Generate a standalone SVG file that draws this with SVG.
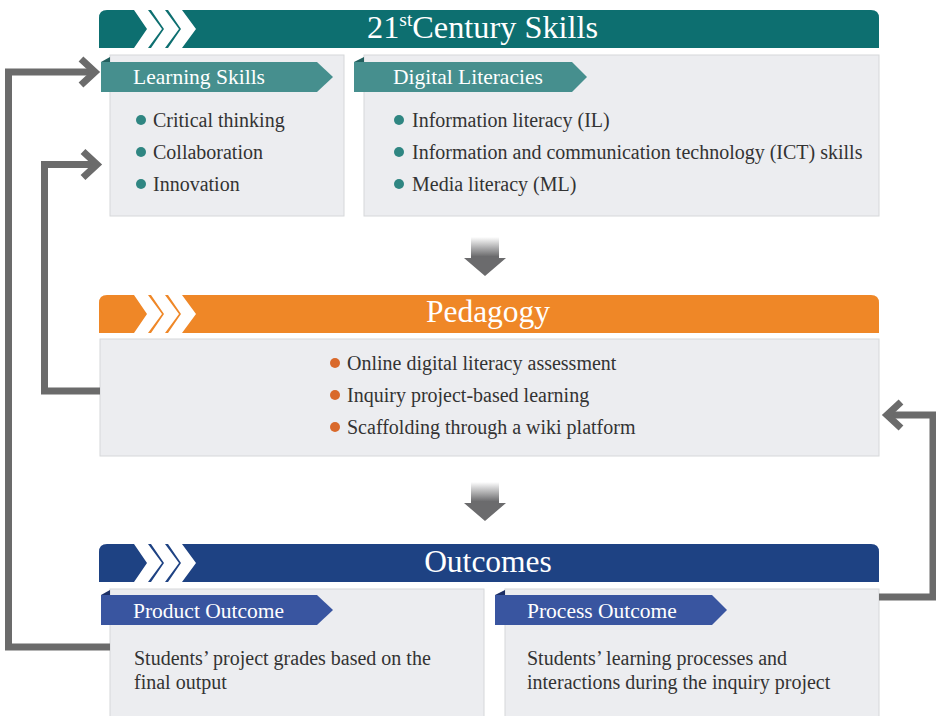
<svg xmlns="http://www.w3.org/2000/svg" width="936" height="716" viewBox="0 0 936 716">
<style>
.hdr-t{font-family:"Liberation Serif","Times New Roman",serif;font-size:31.5px;fill:#fff}
.tab-t{font-family:"Liberation Serif","Times New Roman",serif;font-size:21.5px;fill:#fff}
.body{font-family:"Liberation Serif","Times New Roman",serif;font-size:20px;fill:#333}
.panel{fill:#ecedf0;stroke:#d6d7da;stroke-width:1}
.chev{fill:#fff}
.conn{fill:none;stroke:#6b6b6b;stroke-width:7}
.b-teal{fill:#2f8682}
.b-orange{fill:#d9692b}
</style>
<defs>
<linearGradient id="gArrow" x1="0" y1="0" x2="0" y2="1">
<stop offset="0" stop-color="#6b6b6d" stop-opacity="0"/>
<stop offset="0.5" stop-color="#6b6b6d" stop-opacity="1"/>
<stop offset="1" stop-color="#6b6b6d"/>
</linearGradient>
<marker id="arr" markerUnits="userSpaceOnUse" markerWidth="30" markerHeight="40" viewBox="0 0 30 40" refX="18" refY="20" orient="auto" overflow="visible">
<path d="M4,7 L18,20 L4,33" fill="none" stroke="#6b6b6b" stroke-width="7"/>
</marker>
<g id="chevs">
<polygon class="chev" points="134,10 148,10 162,29 148,48 134,48 147,29"/>
<polygon class="chev" points="151,10 165,10 179,29 165,48 151,48 164,29"/>
<polygon class="chev" points="168,10 182,10 196,29 182,48 168,48 181,29"/>
</g>
</defs>

<!-- 21st Century Skills -->
<g id="skills-header">
<path d="M99,48 V18 Q99,10 107,10 H871 Q879,10 879,18 V48 Z" fill="#0d6f70"/>
<use href="#chevs"/>
<text class="hdr-t" x="367" y="38" style="font-size:32.3px">21<tspan style="font-size:19.5px" dy="-12">st</tspan><tspan dy="12">Century Skills</tspan></text>
</g>

<g id="learning-skills">
<rect class="panel" x="110" y="55" width="234" height="161"/>
<polygon points="101,62 317,62 333,77 317,92 101,92" fill="#468f8e"/>
<polygon points="101,62 110,57 110,62" fill="#22605f"/>
<text class="tab-t" x="133" y="84">Learning Skills</text>
<circle class="b-teal" cx="141" cy="120" r="5"/>
<text class="body" x="153" y="127">Critical thinking</text>
<circle class="b-teal" cx="141" cy="152" r="5"/>
<text class="body" x="153" y="159">Collaboration</text>
<circle class="b-teal" cx="141" cy="184" r="5"/>
<text class="body" x="153" y="191">Innovation</text>
</g>

<g id="digital-literacies">
<rect class="panel" x="364" y="55" width="515" height="161"/>
<polygon points="354,62 572,62 587,77 572,92 354,92" fill="#468f8e"/>
<polygon points="354,62 364,57 364,62" fill="#22605f"/>
<text class="tab-t" x="393" y="84">Digital Literacies</text>
<circle class="b-teal" cx="399" cy="120" r="5"/>
<text class="body" x="412" y="127">Information literacy (IL)</text>
<circle class="b-teal" cx="399" cy="152" r="5"/>
<text class="body" x="412" y="159">Information and communication technology (ICT) skills</text>
<circle class="b-teal" cx="399" cy="184" r="5"/>
<text class="body" x="412" y="191">Media literacy (ML)</text>
</g>

<g id="arrow-down-1">
<polygon points="471,237 499,237 499,258 506,258 485,276 464,258 471,258" fill="url(#gArrow)"/>
</g>

<!-- Pedagogy -->
<g id="pedagogy-header">
<path d="M99,333 V303 Q99,295 107,295 H871 Q879,295 879,303 V333 Z" fill="#ef8727"/>
<use href="#chevs" transform="translate(0,285)"/>
<text class="hdr-t" x="488" y="322" text-anchor="middle">Pedagogy</text>
</g>

<g id="pedagogy">
<rect class="panel" x="100" y="339" width="779" height="117"/>
<circle class="b-orange" cx="335" cy="363" r="5"/>
<text class="body" x="347" y="370">Online digital literacy assessment</text>
<circle class="b-orange" cx="335" cy="395" r="5"/>
<text class="body" x="347" y="402">Inquiry project-based learning</text>
<circle class="b-orange" cx="335" cy="427" r="5"/>
<text class="body" x="347" y="434">Scaffolding through a wiki platform</text>
</g>

<g id="arrow-down-2">
<polygon points="471,482 499,482 499,503 506,503 485,521 464,503 471,503" fill="url(#gArrow)"/>
</g>

<!-- Outcomes -->
<g id="outcomes-header">
<path d="M99,582 V552 Q99,544 107,544 H871 Q879,544 879,552 V582 Z" fill="#1e4283"/>
<use href="#chevs" transform="translate(0,534)"/>
<text class="hdr-t" x="488" y="572" text-anchor="middle">Outcomes</text>
</g>

<g id="product-outcome">
<rect class="panel" x="110" y="589" width="374" height="130"/>
<polygon points="101,595 317,595 333,610 317,625 101,625" fill="#3955a0"/>
<polygon points="101,595 110,590 110,595" fill="#1c2f66"/>
<text class="tab-t" x="133" y="618">Product Outcome</text>
<text class="body" x="134" y="665">Students’ project grades based on the</text>
<text class="body" x="134" y="689">final output</text>
</g>

<g id="process-outcome">
<rect class="panel" x="505" y="589" width="374" height="130"/>
<polygon points="495,595 712,595 727,610 712,625 495,625" fill="#3955a0"/>
<polygon points="495,595 505,590 505,595" fill="#1c2f66"/>
<text class="tab-t" x="527" y="618">Process Outcome</text>
<text class="body" x="527" y="665">Students’ learning processes and</text>
<text class="body" x="527" y="689">interactions during the inquiry project</text>
</g>

<g id="connectors">
<path class="conn" d="M110,647 H8.5 V72 H95" marker-end="url(#arr)"/>
<path class="conn" d="M100,391 H44.5 V164.5 H97" marker-end="url(#arr)"/>
<path class="conn" d="M879,597 H933 V415 H887" marker-end="url(#arr)"/>
</g>
</svg>
